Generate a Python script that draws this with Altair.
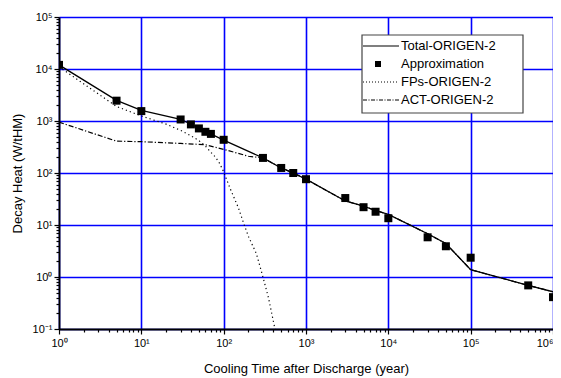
import altair as alt
import pandas as pd

# Approximation (squares)
approx_x = [1, 5, 10, 30, 40, 50, 60, 70, 100, 300, 500, 700, 1000, 3000, 5000, 7000,
            10000, 30000, 50000, 100000, 500000, 1000000]
approx_y = [12000, 2460, 1550, 1070, 860, 720, 620, 565, 435, 195, 125, 100, 76, 33, 22, 18,
            13.5, 5.8, 3.9, 2.35, 0.69, 0.41]

# Total-ORIGEN-2 (solid)
total_x = [1, 5, 10, 30, 100, 300, 500, 700, 1000, 3000, 5000, 7000, 10000, 30000, 50000,
           100000, 500000, 1000000]
total_y = [12000, 2500, 1600, 1080, 430, 195, 125, 100, 76, 29, 23, 19, 16, 6.8, 4.4,
           1.38, 0.69, 0.52]

# FPs-ORIGEN-2 (dotted)
fp_x = [1, 5, 10, 20, 30, 40, 50, 60, 70, 80, 90, 100, 120, 150, 180, 200, 250, 300, 350, 420]
fp_y = [11000, 1900, 1250, 870, 660, 520, 420, 330, 250, 200, 150, 105, 50, 22, 9.5, 6, 2.8,
        1.0, 0.4, 0.1]

# ACT-ORIGEN-2 (dash-dot)
act_x = [1, 5, 10, 30, 60, 100, 200, 300, 500, 700, 1000, 3000, 5000, 7000, 10000, 30000,
         50000, 100000, 500000, 1000000]
act_y = [950, 410, 400, 370, 350, 285, 210, 195, 125, 100, 76, 29, 23, 19, 16, 6.8, 4.4,
         1.38, 0.69, 0.52]

legend_labels = ["Total-ORIGEN-2", "Approximation", "FPs-ORIGEN-2", "ACT-ORIGEN-2"]

FONT = "Liberation Sans"
BLUE = "#0000ff"

x_ticks = [m * 10 ** k for k in range(0, 6) for m in range(1, 10)] + [10 ** 6]
y_ticks = [round(m * 10.0 ** k, 6) for k in range(-1, 5) for m in range(1, 10)] + [10 ** 5]

is_dec = "abs(log(datum.value)/LN10 - round(log(datum.value)/LN10)) < 1e-6"
sup = "['\u207b\u00b9','\u2070','\u00b9','\u00b2','\u00b3','\u2074','\u2075','\u2076'][round(log(datum.value)/LN10)+1]"
label_expr = f"({is_dec}) ? '10' + {sup} : ''"


def make_axis(title, values, **kw):
    return alt.Axis(
        title=title,
        values=values,
        labelExpr=label_expr,
        grid=True,
        gridColor=BLUE,
        gridWidth=1.6,
        gridOpacity={"condition": {"test": is_dec, "value": 1}, "value": 0},
        tickSize={"condition": {"test": is_dec, "value": 5}, "value": 3},
        tickColor="black",
        tickWidth=1.2,
        domainColor="black",
        domainWidth=1.8,
        labelFont=FONT,
        labelFontSize=11,
        labelColor="black",
        titleFont=FONT,
        titleFontSize=13,
        titleFontWeight="normal",
        titleColor="black",
        labelOverlap=False,
        labelFlush=False,
        **kw,
    )


xscale = alt.Scale(type="log", domain=[1, 1e6], nice=False)
yscale = alt.Scale(type="log", domain=[0.1, 1e5], nice=False)

xaxis = make_axis("Cooling Time after Discharge (year)", x_ticks, titlePadding=14, labelPadding=3,
                  labelAlign={"condition": {"test": "datum.value >= 999999", "value": "right"},
                              "value": "center"})
yaxis = make_axis("Decay Heat (W/tHM)", y_ticks, titlePadding=8, labelPadding=2)

df_total = pd.DataFrame({"x": total_x, "y": total_y})
df_fp = pd.DataFrame({"x": fp_x, "y": fp_y})
df_act = pd.DataFrame({"x": act_x, "y": act_y})
df_app = pd.DataFrame({"x": approx_x, "y": approx_y})

X = alt.X("x:Q", scale=xscale, axis=xaxis)
Y = alt.Y("y:Q", scale=yscale, axis=yaxis)

fp = alt.Chart(df_fp).mark_line(color="black", strokeWidth=1.2, strokeDash=[1.2, 3], clip=True).encode(x=X, y=Y)
act = alt.Chart(df_act).mark_line(color="black", strokeWidth=1.2, strokeDash=[5, 2, 1.2, 2], clip=True).encode(x=X, y=Y)
total = alt.Chart(df_total).mark_line(color="black", strokeWidth=1.3, clip=True).encode(x=X, y=Y)
app = alt.Chart(df_app).mark_square(color="black", size=64, opacity=1, clip=True).encode(x=X, y=Y)

one = alt.Data(values=[{"a": 1}])
LX0, LX1, LY0, LY1 = 303, 464, 18, 96
rows = [29, 47, 65, 83]
box = alt.Chart(one).mark_rect(fill="white", stroke="#444444", strokeWidth=1.2).encode(
    x=alt.value(LX0), x2=alt.value(LX1), y=alt.value(LY0), y2=alt.value(LY1))
l1 = alt.Chart(one).mark_rule(color="black", strokeWidth=1.2).encode(
    x=alt.value(304), x2=alt.value(340), y=alt.value(rows[0]))
l2 = alt.Chart(one).mark_square(color="black", size=36, opacity=1).encode(
    x=alt.value(319), y=alt.value(rows[1]))
l3 = alt.Chart(one).mark_rule(color="black", strokeWidth=1.0, strokeDash=[1, 2]).encode(
    x=alt.value(304), x2=alt.value(340), y=alt.value(rows[2]))
l4 = alt.Chart(one).mark_rule(color="black", strokeWidth=1.0, strokeDash=[4, 1.5, 1, 1.5]).encode(
    x=alt.value(304), x2=alt.value(340), y=alt.value(rows[3]))
texts = [
    alt.Chart(one).mark_text(align="left", baseline="middle", font=FONT, fontSize=13, color="black").encode(
        x=alt.value(342), y=alt.value(r), text=alt.value(t))
    for r, t in zip(rows, legend_labels)
]

chart = alt.layer(fp, act, total, app, box, l1, l2, l3, l4, *texts).properties(
    width=494,
    height=312,
    autosize=alt.AutoSizeParams(type="none"),
    padding={"left": 51, "top": 9, "right": 0, "bottom": 48},
).configure_view(stroke="black", strokeWidth=1.6).configure(background="white")

chart.save("out.html", embed_options={"renderer": "svg", "actions": False})
